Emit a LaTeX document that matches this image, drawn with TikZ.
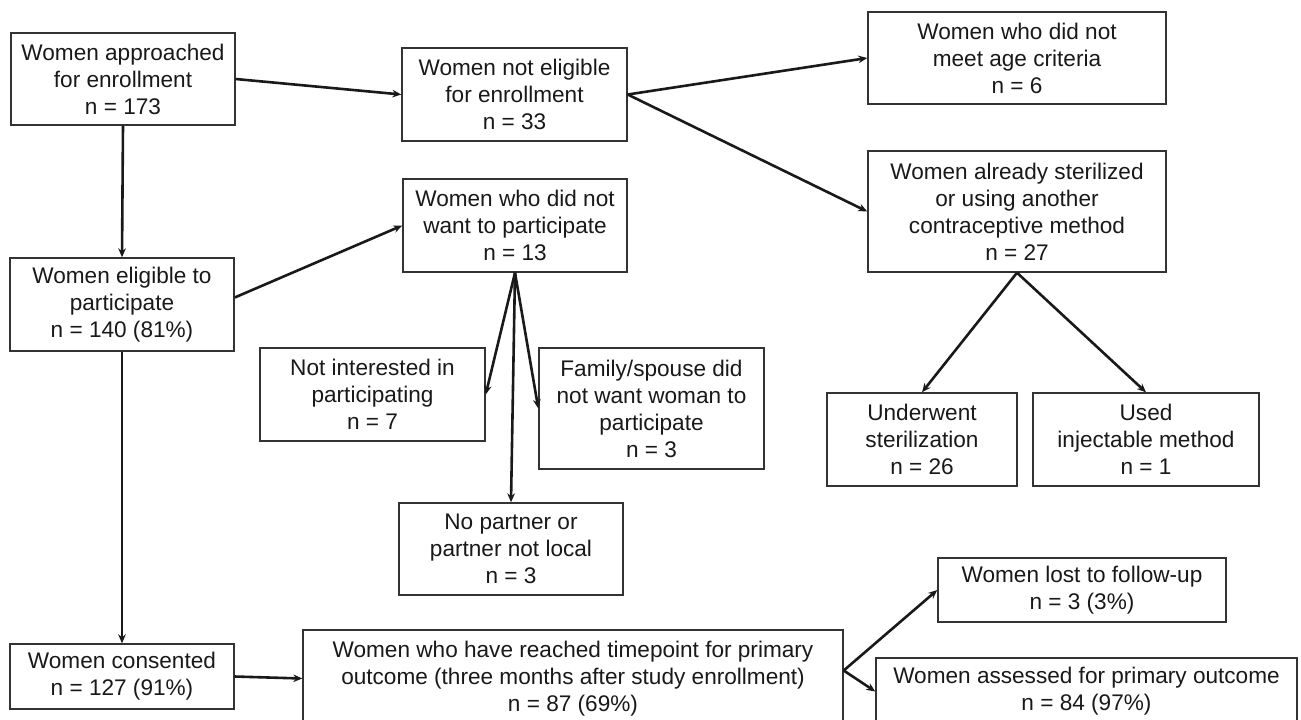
\documentclass[tikz,border=0pt]{standalone}
\usepackage{fontspec}
\setmainfont{Liberation Sans}
\usetikzlibrary{arrows.meta,shapes,positioning}

\begin{document}
\begin{tikzpicture}[x=0.5pt, y=-0.5pt,
    box/.style={draw=black!80, line width=0.7pt, fill=white, align=center, inner sep=0pt,
      text=black!90, font=\fontsize{11.3}{13.5}\selectfont},
    arr/.style={line width=1.3pt, draw=black!90, -{Stealth[length=4.5pt,width=3.8pt]}}]
  \useasboundingbox (0,0) rectangle (1301,719);
  \clip (0,0) rectangle (1301,719);

  \node[box, minimum width=112pt, minimum height=46pt] (approach) at (123,79) {Women approached\\for enrollment\\n = 173}; % top left
  \node[box, minimum width=112.5pt, minimum height=46.5pt] (noteligible) at (514.5,94.5) {Women not eligible\\for enrollment\\n = 33};
  \node[box, minimum width=149pt, minimum height=46pt] (age) at (1017,58) {Women who did not\\meet age criteria\\n = 6}; % top right
  \node[box, minimum width=149pt, minimum height=60.5pt] (sterilized) at (1017,211.5) {Women already sterilized\\or using another\\contraceptive method\\n = 27};
  \node[box, minimum width=112pt, minimum height=46.5pt] (notwant) at (515,225.5) {Women who did not\\want to participate\\n = 13};
  \node[box, minimum width=112pt, minimum height=46.5pt] (eligible) at (122,304.5) {Women eligible to\\participate\\n = 140 (81\%)}; % left
  \node[box, minimum width=112.5pt, minimum height=46.5pt] (notinterested) at (372.5,394.5) {Not interested in\\participating\\n = 7};
  \node[box, minimum width=112.5pt, minimum height=60.5pt] (family) at (651.5,408.5) {Family/spouse did\\not want woman to\\participate\\n = 3};
  \node[box, minimum width=112pt, minimum height=46pt] (nopartner) at (511,549) {No partner or\\partner not local\\n = 3};
  \node[box, minimum width=95pt, minimum height=46.5pt] (underwent) at (922,439.5) {Underwent\\sterilization\\n = 26};
  \node[box, minimum width=113pt, minimum height=46.5pt] (injectable) at (1146,439.5) {Used\\injectable method\\n = 1};
  \node[box, minimum width=112pt, minimum height=32.5pt] (consented) at (122,676.5) {Women consented\\n = 127 (91\%)}; % bottom left
  \node[box, minimum width=270pt, minimum height=48.5pt] (timepoint) at (573,678.5) {Women who have reached timepoint for primary\\outcome (three months after study enrollment)\\n = 87 (69\%)};
  \node[box, minimum width=144pt, minimum height=32pt] (lost) at (1082,590) {Women lost to follow-up\\n = 3 (3\%)};
  \node[box, minimum width=210.5pt, minimum height=33.5pt] (assessed) at (1086.5,691.5) {Women assessed for primary outcome\\n = 84 (97\%)}; % bottom right

  \draw[arr] (approach.east) -- (noteligible.west);
  \draw[arr] (approach.south) -- (eligible.north);
  \draw[arr] (noteligible.east) -- (age.west);
  \draw[arr] (noteligible.east) -- (sterilized.west);
  \draw[arr] ([yshift=3.5pt]eligible.east) -- (notwant.west);
  \draw[arr] (notwant.south) -- (notinterested.east);
  \draw[arr] (notwant.south) -- (family.west);
  \draw[arr] (notwant.south) -- (nopartner.north);
  \draw[arr] (sterilized.south) -- (underwent.north);
  \draw[arr] (sterilized.south) -- (injectable.north);
  \draw[arr] (eligible.south) -- (consented.north);
  \draw[arr] (consented.east) -- (timepoint.west);
  \draw[arr] ([yshift=4pt]timepoint.east) -- (lost.west);
  \draw[arr] ([yshift=4pt]timepoint.east) -- (assessed.west);
\end{tikzpicture}
\end{document}
